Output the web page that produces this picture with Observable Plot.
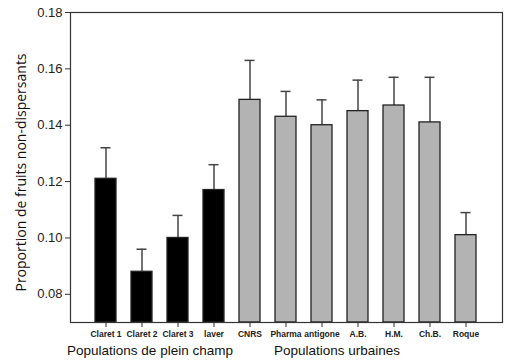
<!DOCTYPE html>
<html>
<head>
<meta charset="utf-8">
<script src="https://cdn.jsdelivr.net/npm/d3@7"></script>
<script src="https://cdn.jsdelivr.net/npm/@observablehq/plot@0.6"></script>
<style>
  html, body { margin: 0; padding: 0; background: #fff; }
</style>
</head>
<body>
<div id="chart"></div>
<script>
const categories = ["Claret 1","Claret 2","Claret 3","laver","CNRS","Pharma","antigone","A.B.","H.M.","Ch.B.","Roque"];
const means = [0.121, 0.088, 0.100, 0.117, 0.149, 0.143, 0.140, 0.145, 0.147, 0.141, 0.101];
const upper = [0.132, 0.096, 0.108, 0.126, 0.163, 0.152, 0.149, 0.156, 0.157, 0.157, 0.109];
const groups = ["champ","champ","champ","champ","urbain","urbain","urbain","urbain","urbain","urbain","urbain"];
const yDomain = [0.07, 0.18];
const yTicks = [0.08, 0.10, 0.12, 0.14, 0.16, 0.18];
const groupLabels = ["Populations de plein champ", "Populations urbaines"];
const groupAnchors = ["Claret 2", "antigone"];
const yTitle = "Proportion de fruits non-dispersants";

const data = categories.map((c, i) => ({cat: c, mean: means[i], upper: upper[i], group: groups[i]}));

const chart = Plot.plot({
  width: 523,
  height: 364,
  marginLeft: 70,
  marginRight: 21,
  marginTop: 12,
  marginBottom: 42,
  style: {fontFamily: "'Liberation Sans', Arial, sans-serif", background: "#fff", color: "#222"},
  x: {domain: categories, paddingInner: 0.41, paddingOuter: 0.705, label: null},
  y: {domain: yDomain, label: null},
  color: {domain: ["champ","urbain"], range: ["#000000", "#b3b3b3"]},
  marks: [
    Plot.ruleX(data, {x: "cat", y1: "mean", y2: "upper", stroke: "#444", strokeWidth: 1.5}),
    Plot.tickY(data, {x: "cat", y: "upper", stroke: "#444", strokeWidth: 1.5, insetLeft: 5.5, insetRight: 5.5}),
    Plot.barY(data, {x: "cat", y1: yDomain[0], y2: "mean", fill: "group", stroke: "#222", strokeWidth: 1.3}),
    Plot.frame({stroke: "#333", strokeWidth: 1.2}),
    Plot.axisY({ticks: yTicks, tickFormat: d3.format(".2f"), tickSize: 5, tickPadding: 3, fontSize: 13, stroke: "#333", label: null}),
    Plot.axisX({tickSize: 5, tickPadding: 3, fontSize: 8.5, fontWeight: "bold", stroke: "#333", label: null}),
    Plot.text([groupLabels[0]], {x: [groupAnchors[0]], text: d => d, frameAnchor: "bottom", lineAnchor: "middle", textAnchor: "middle", dy: 28, dx: 8, fontSize: 13.5, fill: "#111"}),
    Plot.text([groupLabels[1]], {x: [groupAnchors[1]], text: d => d, frameAnchor: "bottom", lineAnchor: "middle", textAnchor: "middle", dy: 28, dx: 15, fontSize: 13.5, fill: "#111"}),
    Plot.text([yTitle], {text: d => d, frameAnchor: "left", textAnchor: "middle", lineAnchor: "middle", rotate: -90, dx: -49, dy: 5, fontSize: 14, fontFamily: "'Open Sans', sans-serif", fill: "#111"})
  ]
});
document.getElementById("chart").appendChild(chart);
</script>
</body>
</html>
